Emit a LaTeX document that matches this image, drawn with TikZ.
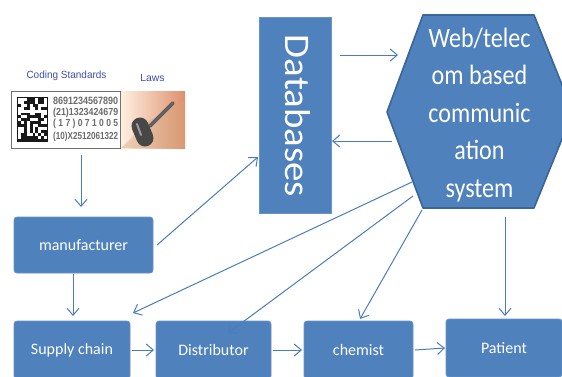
\documentclass[tikz,border=0pt]{standalone}
\usepackage{fontspec}
\usepackage{graphicx}
\setmainfont{Carlito}
\newfontfamily\barfont{Liberation Sans}
\usetikzlibrary{arrows.meta,shapes.geometric,shadings}
\definecolor{boxblue}{HTML}{4F81BD}
\definecolor{edgeblue}{HTML}{3A6595}
\definecolor{linkblue}{HTML}{4A7EBB}
\definecolor{labelblue}{HTML}{3F4FA8}
\newcommand{\barrow}[1]{\resizebox{65pt}{7.4pt}{#1}}
\tikzset{
  flowbox/.style={draw=boxblue!85!white,line width=.8pt,fill=boxblue,rounded corners=3pt,text=white,inner sep=0pt,font=\fontsize{16}{18}\selectfont},
  link/.style={draw=linkblue,line width=1pt,-{Straight Barb[length=7pt,width=12pt,line width=1pt]}},
  barline/.style={font=\barfont\bfseries\fontsize{9}{10}\selectfont,text=black!58,inner sep=0pt,anchor=west},
  toplabel/.style={font=\barfont\fontsize{10.4}{12}\selectfont,text=labelblue,inner sep=0pt}
}
\begin{document}
\begin{tikzpicture}[x=1pt,y=-1pt]
\useasboundingbox (0,0) rectangle (562,376);
\clip (0,0) rectangle (562,376);
\fill[white] (0,0) rectangle (562,376);

% boxes
\node[flowbox,minimum width=139pt,minimum height=56pt] (manu) at (83.5,245) {manufacturer};
\node[flowbox,minimum width=116pt,minimum height=58pt] (supply) at (72,350) {Supply chain};
\node[flowbox,minimum width=115pt,minimum height=58pt] (dist) at (213.5,350) {Distributor};
\node[flowbox,minimum width=109pt,minimum height=58pt] (chem) at (358.5,350) {chemist};
\node[flowbox,minimum width=116pt,minimum height=58pt] (patient) at (504,348) {Patient};
\node[draw=boxblue!85!white,line width=.8pt,fill=boxblue,minimum width=72.5pt,minimum height=196pt,inner sep=0pt] (db) at (295.5,115) {};
\node[rotate=-90,anchor=base,text=white,inner sep=0pt] (dbtext) at (285.5,116) {\scalebox{1.08}[1]{\fontsize{36}{38}\selectfont Databases}};

% hexagon
\draw[draw=edgeblue,line width=1.6pt,fill=boxblue,line join=round] (423,15) -- (534,15) -- (573,112) -- (534,208) -- (423,208) -- (387,112) -- cycle;
\node[text=white,inner sep=0pt] (hex) at (479.5,115) {\scalebox{.86}[1]{\fontsize{28}{37.5}\selectfont\begin{tabular}{@{}c@{}}Web/telec\\[-.1pt]om based\\communic\\ation\\system\end{tabular}}};

% coding-standard panel
\node[toplabel] (coding) at (66.5,76) {\scalebox{.96}[1]{Coding Standards}};
\node[toplabel] (laws) at (152.5,78) {Laws};
\node[draw=black!55,line width=1.2pt,fill=white,minimum width=109pt,minimum height=57pt,inner sep=0pt] (barcode) at (66,120) {};
\pgfmathsetseed{11}
\fill[black!90] (17,97) rectangle (47.5,141.5);
\foreach \row in {0,...,13}{
  \foreach \col in {0,...,9}{
    \pgfmathrandominteger{\coin}{0}{1}
    \ifnum\coin=1
      \fill[white] (18+\col*2.9,98+\row*2.9) rectangle (20.9+\col*2.9,100.9+\row*2.9);
    \fi
  }
}
\node[barline] (b1) at (53,100.5) {\barrow{8691234567890}};
\node[barline] (b2) at (53,112.5) {\barrow{(21)1323424679}};
\node[barline] (b3) at (53,124) {\barrow{( 1 7 ) 0 7 1 0 0 5}};
\node[barline] (b4) at (53,137) {\barrow{(10)X2512061322}};
\shade[left color=white!88!orange,right color=brown!75!red!70!white] (121,91) rectangle (185,148);
\fill[brown!70!white,opacity=.4] (121,148) -- (150,120) -- (185,100) -- (185,148) -- cycle;
\draw[black!62,line width=3.6pt,line cap=round] (150,126) -- (173,103);
\draw[black!72,line width=17pt,line cap=round] (140,126) -- (145,138);
\draw[black!40,line width=2pt,line cap=round] (137,124) -- (141,135);

% free ends
\coordinate (codeout) at (81,155);
\coordinate (codein) at (81,207);
\coordinate (manuout) at (73,274);
\coordinate (supplyin) at (73,316);
\coordinate (manuR) at (157,245);
\coordinate (dbin) at (258,157);
\coordinate (dbR) at (340,55);
\coordinate (hexin) at (398,55);
\coordinate (hexL) at (392,141);
\coordinate (dbout) at (332,141);
\coordinate (hexA) at (412,182);
\coordinate (supplyT) at (133,313);
\coordinate (hexB) at (413,196);
\coordinate (distT) at (228,333);
\coordinate (hexC) at (422,210);
\coordinate (chemT) at (360,319);
\coordinate (hexD) at (505,217);
\coordinate (patientT) at (505,316);
\coordinate (s1) at (132,350);
\coordinate (d0) at (154,350);
\coordinate (d1) at (273,350);
\coordinate (c0) at (302,350);
\coordinate (c1) at (415,350);
\coordinate (p0) at (445,348);

% connectors
\draw[link] (codeout) -- (codein);
\draw[link] (manuout) -- (supplyin);
\draw[link] (manuR) -- (dbin);
\draw[link] (dbR) -- (hexin);
\draw[link] (hexL) -- (dbout);
\draw[link] (hexA) -- (supplyT);
\draw[link] (hexB) -- (distT);
\draw[link] (hexC) -- (chemT);
\draw[link] (hexD) -- (patientT);
\draw[link] (s1) -- (d0);
\draw[link] (d1) -- (c0);
\draw[link] (c1) -- (p0);
\end{tikzpicture}
\end{document}
